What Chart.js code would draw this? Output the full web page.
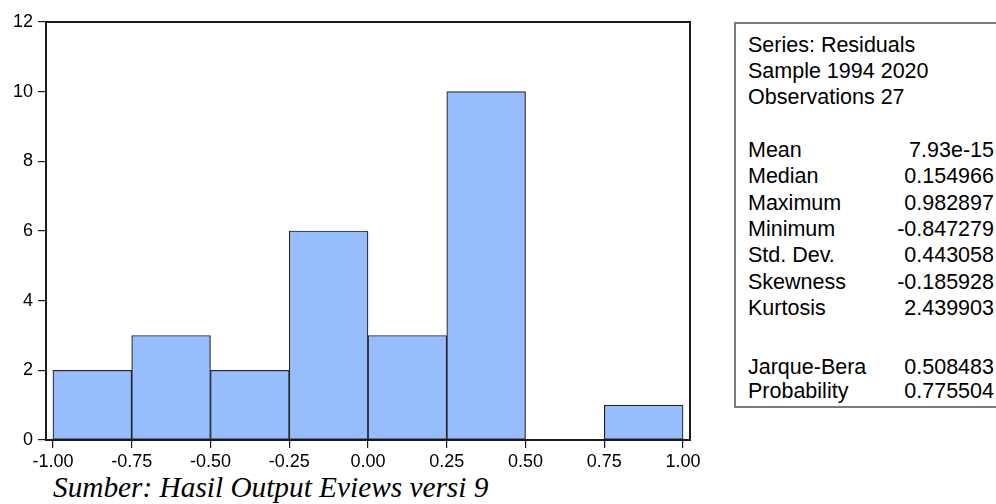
<!DOCTYPE html>
<html>
<head>
<meta charset="utf-8">
<script src="https://cdn.jsdelivr.net/npm/chart.js@4.4.1/dist/chart.umd.min.js"></script>
<style>
    body { margin: 0; background: #fff; width: 996px; height: 504px; overflow: hidden; position: relative; font-family: "Liberation Sans", Arial, sans-serif; }
    #chartWrap { position: absolute; left: 0; top: 0; width: 720px; height: 470px; }
    #stats { position: absolute; left: 734px; top: 22px; width: 290px; height: 386px; border: 2px solid #7a7a7a; box-sizing: border-box; font-size: 21.5px; color: #000; }
    #stats .row { position: absolute; left: 12px; width: 246px; height: 26px; line-height: 26px; white-space: nowrap; }
    #stats .row span.v { position: absolute; right: 0; }
    #caption { position: absolute; left: 53px; top: 471px; font-family: "Liberation Serif", "Times New Roman", serif; font-style: italic; font-size: 29.3px; color: #000; white-space: nowrap; }
</style>
</head>
<body>
<div id="chartWrap"><canvas id="hist"></canvas></div>
<div id="stats"></div>
<div id="caption">Sumber: Hasil Output Eviews versi 9</div>
<script>
const binStarts = [-1.00, -0.75, -0.50, -0.25, 0.00, 0.25, 0.50, 0.75];
const binCounts = [2, 3, 2, 6, 3, 10, 0, 1];
const binWidth = 0.25;
const xTicks = [-1.00, -0.75, -0.50, -0.25, 0.00, 0.25, 0.50, 0.75, 1.00];
const yTicks = [0, 2, 4, 6, 8, 10, 12];

const headerLines = ['Series: Residuals', 'Sample 1994 2020', 'Observations 27'];
const statLabels = ['Mean', 'Median', 'Maximum', 'Minimum', 'Std. Dev.', 'Skewness', 'Kurtosis'];
const statValues = ['7.93e-15', '0.154966', '0.982897', '-0.847279', '0.443058', '-0.185928', '2.439903'];
const testLabels = ['Jarque-Bera', 'Probability'];
const testValues = ['0.508483', '0.775504'];

// stats box
const stats = document.getElementById('stats');
function addRow(top, label, value) {
    const row = document.createElement('div');
    row.className = 'row';
    row.style.top = top + 'px';
    row.textContent = label;
    if (value !== undefined) {
        const v = document.createElement('span');
        v.className = 'v';
        v.textContent = value;
        row.appendChild(v);
    }
    stats.appendChild(row);
}
headerLines.forEach((t, i) => addRow(8 + i * 26, t));
statLabels.forEach((t, i) => addRow(113 + i * 26.3, t, statValues[i]));
testLabels.forEach((t, i) => addRow(330 + i * 24, t, testValues[i]));

const frame = {
    id: 'frame',
    afterDatasetsDraw(chart) {
        const a = chart.chartArea;
        const ctx = chart.ctx;
        ctx.save();
        ctx.strokeStyle = '#1a1a1a';
        ctx.lineWidth = 2;
        ctx.strokeRect(a.left, a.top, a.right - a.left, a.bottom - a.top);
        ctx.restore();
    }
};

new Chart(document.getElementById('hist').getContext('2d'), {
    type: 'bar',
    data: {
        datasets: [{
            data: binStarts.map((s, i) => ({ x: s + binWidth / 2, y: binCounts[i] })),
            backgroundColor: '#97bdfe',
            borderColor: '#262626',
            borderWidth: 1.2,
            borderSkipped: false,
            barPercentage: 1,
            categoryPercentage: 1
        }]
    },
    options: {
        responsive: true,
        maintainAspectRatio: false,
        animation: false,
        layout: { padding: { top: 22, right: 30, left: 0, bottom: 0 } },
        plugins: { legend: { display: false }, tooltip: { enabled: false } },
        scales: {
            x: {
                type: 'linear',
                offset: false,
                min: -1.022,
                max: 1.022,
                afterBuildTicks: s => { s.ticks = xTicks.map(v => ({ value: v })); },
                afterFit: s => { s.height = 30; },
                grid: { offset: false, drawOnChartArea: false, drawTicks: true, tickLength: 8, color: '#1a1a1a', lineWidth: 1.2 },
                border: { display: true, color: '#1a1a1a', width: 2 },
                ticks: { color: '#000', font: { family: 'Liberation Sans', size: 18 }, padding: 3, maxRotation: 0, autoSkip: false, callback: v => v.toFixed(2) }
            },
            y: {
                min: 0,
                max: 12,
                afterBuildTicks: s => { s.ticks = yTicks.map(v => ({ value: v })); },
                afterFit: s => { s.width = 46; },
                grid: { drawOnChartArea: false, drawTicks: true, tickLength: 8, color: '#1a1a1a', lineWidth: 1.2 },
                border: { display: true, color: '#1a1a1a', width: 2 },
                ticks: { color: '#000', font: { family: 'Liberation Sans', size: 18 }, padding: 5 }
            }
        }
    },
    plugins: [frame]
});
</script>
</body>
</html>
